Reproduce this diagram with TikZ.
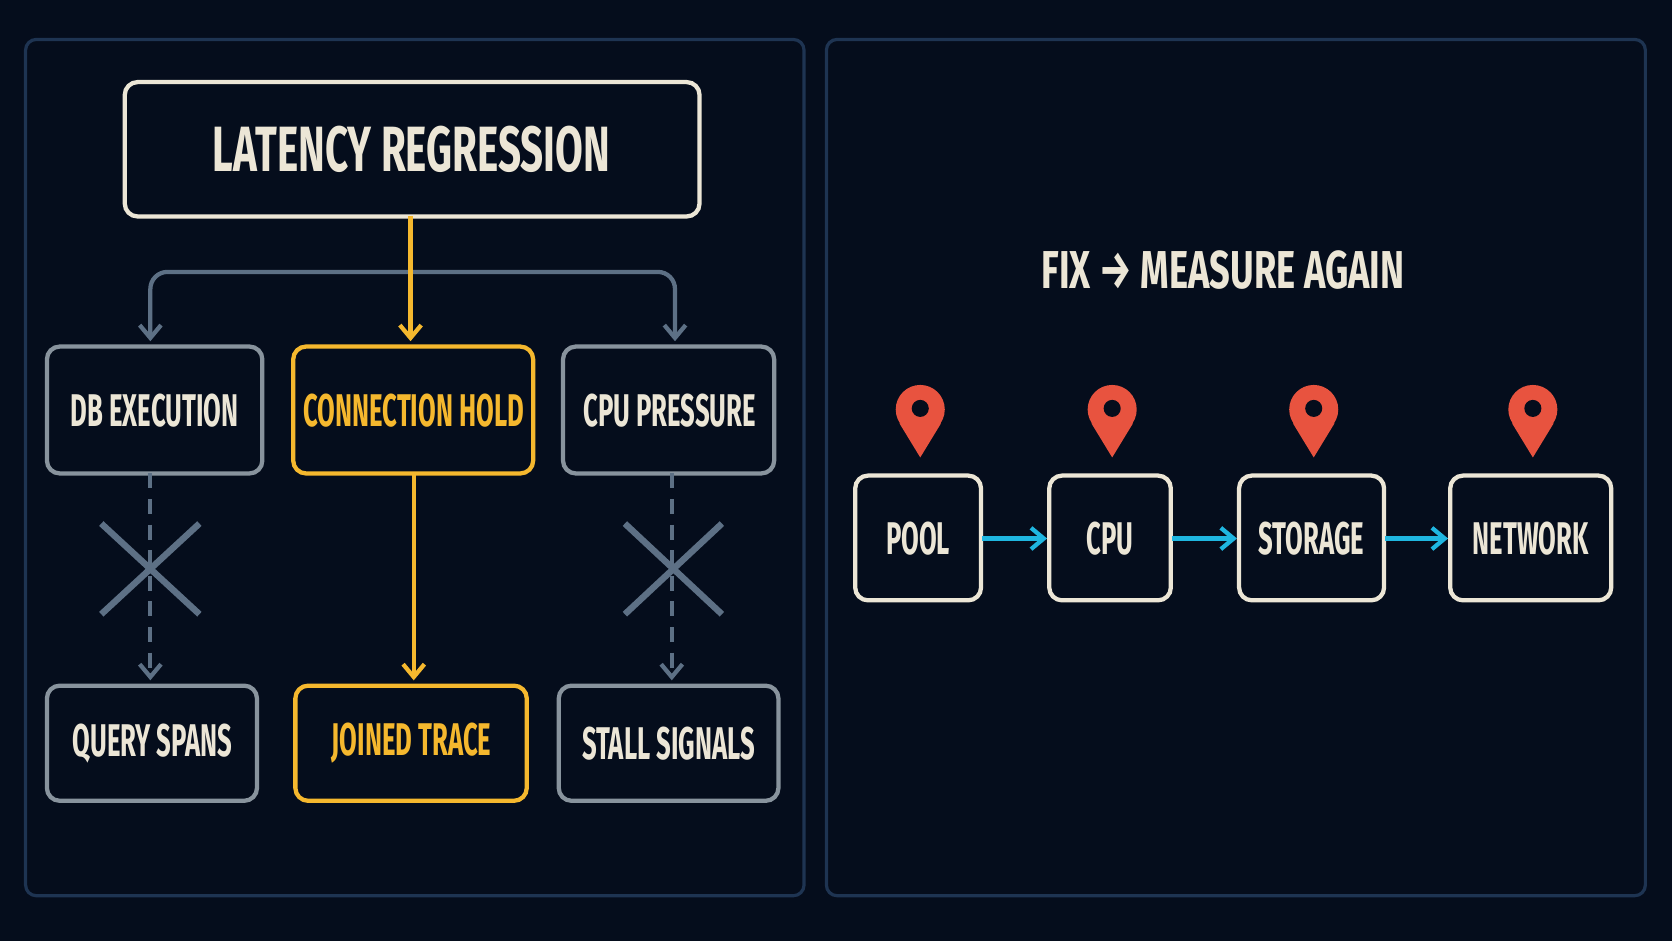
\documentclass[tikz,border=0pt]{standalone}
\usepackage{fontspec}
\setmainfont{Fira Sans}
\usetikzlibrary{arrows.meta}
\definecolor{bg}{HTML}{050D1C}
\definecolor{panel}{HTML}{1E3452}
\definecolor{cream}{HTML}{ECE6D6}
\definecolor{gold}{HTML}{F5B82E}
\definecolor{gray}{HTML}{5D7085}
\definecolor{cyan}{HTML}{1FB6E0}
\definecolor{pinred}{HTML}{E8533F}
\newcommand{\nar}[2][0.56]{\scalebox{#1}[1]{#2}}
\begin{document}
\begin{tikzpicture}[x=0.5pt,y=-0.5pt,
  panel/.style={draw=panel,line width=1.5pt,rounded corners=5pt},
  box/.style={draw=#1,line width=2pt,rounded corners=6pt},
  lab/.style={text=#1,font=\fontsize{21.5}{22}\selectfont\bfseries},
  garr/.style={draw=gray,line width=2pt,-{Straight Barb[length=6pt,width=10pt]},rounded corners=8pt},
  yarr/.style={draw=gold,line width=2pt,-{Straight Barb[length=6pt,width=10pt]}},
  carr/.style={draw=cyan,line width=2pt,-{Straight Barb[length=6pt,width=10pt]}},
  cross/.style={draw=gray,line width=3pt}]
\fill[bg] (0,0) rectangle (1568,882);
\useasboundingbox (0,0) rectangle (1568,882);
\draw[panel] (24,37) rectangle (754,840);
\draw[panel] (775,37) rectangle (1543,840);
% title
\draw[box=cream] (117,77) rectangle (656,203);
\node[text=cream,font=\fontsize{30}{30}\selectfont\bfseries] (title) at (386,140) {\nar[0.63]{LATENCY REGRESSION}};
\coordinate (tb) at (385,203);
% row boxes
\draw[box=gray!70!cream] (44,325) rectangle (246,444);
\node[lab=cream] (db) at (145,385) {\nar{DB EXECUTION}};
\draw[box=gold] (275,325) rectangle (500,444);
\node[lab=gold] (conn) at (388,385) {\nar{CONNECTION HOLD}};
\draw[box=gray!70!cream] (528,325) rectangle (726,444);
\node[lab=cream] (cpu) at (628,385) {\nar{CPU PRESSURE}};
\draw[box=gray!70!cream] (44,643) rectangle (241,751);
\node[lab=cream] (qs) at (143,697) {\nar{QUERY SPANS}};
\draw[box=gold] (277,643) rectangle (494,751);
\node[lab=gold] (jt) at (386,697) {\nar{JOINED TRACE}};
\draw[box=gray!70!cream] (524,643) rectangle (730,751);
\node[lab=cream] (ss) at (627,697) {\nar{STALL SIGNALS}};
% arrows
\draw[garr] (385,255) -- (141,255) -- (141,320);
\draw[garr] (385,255) -- (633,255) -- (633,320);
\draw[yarr] (tb) -- (385,320);
\draw[yarr] (388,444) -- (388,638);
\draw[garr,dash pattern=on 7pt off 5pt] (141,444) -- (141,638);
\draw[garr,dash pattern=on 7pt off 5pt] (630,444) -- (630,638);
\draw[cross] (95,491) -- (187,576) (187,491) -- (95,576);
\draw[cross] (586,491) -- (677,576) (677,491) -- (586,576);
% right
\node[text=cream,font=\fontsize{25}{25}\selectfont\bfseries] (fix) at (1147,253) {\nar[0.68]{FIX → MEASURE AGAIN}};
\foreach \xa/\xb/\nm/\lab in {802/920/pool/POOL,984/1098/cpuu/CPU,1162/1298/stor/STORAGE,1360/1511/net/NETWORK}{
  \draw[box=cream] (\xa,446) rectangle (\xb,563);
  \node[lab=cream] (\nm) at ({(\xa+\xb)/2},505) {\nar{\lab}};
  \pgfmathsetmacro\cx{(\xa+\xb)/2+2}
  \fill[pinred] (\cx,384) circle (23);
  \fill[pinred] (\cx-19.5,397) -- (\cx+19.5,397) -- (\cx,429) -- cycle;
  \fill[bg] (\cx,383) circle (8);
}
\draw[carr] (921,505) -- (982,505);
\draw[carr] (1099,505) -- (1160,505);
\draw[carr] (1299,505) -- (1358,505);
\end{tikzpicture}
\end{document}
